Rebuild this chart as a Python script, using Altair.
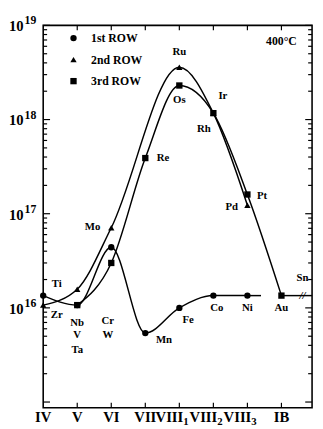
import altair as alt
import pandas as pd

# ---------------- data ----------------
row1_el = ["Ti", "V", "Cr", "Mn", "Fe", "Co", "Ni"]
row1_x = [0, 1, 2, 3, 4, 5, 6]
row1_y = [1.35e16, 1.07e16, 4.4e16, 5.4e15, 1.0e16, 1.35e16, 1.35e16]

row2_el = ["Zr", "Nb", "Mo", "Ru", "Rh", "Pd"]
row2_x = [0, 1, 2, 4, 5, 6]
row2_y = [1.07e16, 1.58e16, 7.1e16, 3.6e18, 1.17e18, 1.23e17]

row3_el = ["Ta", "W", "Re", "Os", "Ir", "Pt", "Au"]
row3_x = [1, 2, 3, 4, 5, 6, 7]
row3_y = [1.07e16, 3.0e16, 3.9e17, 2.3e18, 1.17e18, 1.6e17, 1.35e16]

# straight tails: Ni -> end of 1st row line, Au -> Sn
tail_row = ["1st ROW", "1st ROW", "3rd ROW", "3rd ROW"]
tail_x = [6, 6.4, 7, 7.9]
tail_y = [1.35e16, 1.35e16, 1.35e16, 1.35e16]

rows = ["1st ROW", "2nd ROW", "3rd ROW"]

# element labels (annotation anchors in data space)
lab_text = ["Ti", "Zr", "Nb", "V", "Ta", "Mo", "Cr", "W", "Mn", "Fe", "Co", "Ni",
            "Au", "Sn", "Pd", "Pt", "Rh", "Ir", "Os", "Ru", "Re"]
lab_x = [0.40, 0.40, 1.0, 1.0, 1.0, 1.45, 1.9, 1.9, 3.55, 4.26, 5.1, 6.0,
         7.0, 7.62, 5.54, 6.43, 4.72, 5.28, 4.0, 4.0, 3.52]
lab_y = [1.78e16, 8.3e15, 6.9e15, 5.1e15, 3.6e15, 7.2e16, 7.2e15, 5.1e15, 4.6e15,
         7.4e15, 1.0e16, 1.0e16, 1.0e16, 2.05e16, 1.17e17, 1.55e17, 7.9e17, 1.78e18,
         1.6e18, 5.2e18, 3.9e17]

temp_text = ["400°C"]
temp_x = [7.0]
temp_y = [6.8e18]

brk_text = ["//"]
brk_x = [7.62]
brk_y = [1.35e16]

# axis tick labels
x_pos = [0, 1, 2, 3, 4, 5, 6, 7]
x_main = ["IV", "V", "VI", "VII", "VIII", "VIII", "VIII", "IB"]
x_sub = ["", "", "", "", "1", "2", "3", ""]
y_exp = ["16", "17", "18", "19"]
y_dec = [1e16, 1e17, 1e18, 1e19]
y_major = [1e15, 1e16, 1e17, 1e18, 1e19]
y_minor = [m * 10.0 ** e for e in (15, 16, 17, 18) for m in (2, 3, 4, 5, 6, 7, 8, 9)]
x_ticks = [1, 2, 3, 4, 5, 6, 7]

# ---------------- chart ----------------
W, H = 275, 391
FONT = "Liberation Serif"
xs = alt.Scale(domain=[0, 7.9], nice=False, zero=False)
ys = alt.Scale(type="log", domain=[10 ** 14.94, 1e19], nice=False)

pts = pd.DataFrame({
    "row": ["1st ROW"] * len(row1_x) + ["2nd ROW"] * len(row2_x) + ["3rd ROW"] * len(row3_x),
    "el": row1_el + row2_el + row3_el,
    "x": row1_x + row2_x + row3_x,
    "y": row1_y + row2_y + row3_y,
})
tails = pd.DataFrame({"row": tail_row, "x": tail_x, "y": tail_y})
labs = pd.DataFrame({"t": lab_text, "x": lab_x, "y": lab_y})
xl = pd.DataFrame({"x": x_pos, "main": x_main, "sub": x_sub})
yl = pd.DataFrame({"v": y_dec, "e": y_exp})

X = lambda f="x": alt.X(f"{f}:Q", scale=xs, axis=None)
Y = lambda f="y": alt.Y(f"{f}:Q", scale=ys, axis=None)

curves = alt.Chart(pts).mark_line(interpolate="monotone", color="black", strokeWidth=1.5).encode(
    x=X(), y=Y(), detail="row:N", order="x:Q")
tail_lines = alt.Chart(tails).mark_line(color="black", strokeWidth=1.5).encode(
    x=X(), y=Y(), detail="row:N", order="x:Q")

points = alt.Chart(pts).mark_point(filled=True, size=42, color="black", opacity=1).encode(
    x=X(), y=Y(),
    shape=alt.Shape("row:N", scale=alt.Scale(domain=rows, range=["circle", "triangle-up", "square"]),
                    legend=alt.Legend(orient="none", legendX=25, legendY=7, title=None,
                                      labelFont=FONT, labelFontWeight="bold", labelFontSize=12,
                                      labelColor="black", symbolFillColor="black",
                                      symbolStrokeColor="black", symbolOpacity=1, symbolSize=42,
                                      rowPadding=9, labelOffset=12, padding=0)),
    order=alt.Order("row:N"))

labels = alt.Chart(labs).mark_text(font=FONT, fontWeight="bold", fontSize=11, color="black").encode(
    x=X(), y=Y(), text="t:N")
temp = alt.Chart(pd.DataFrame({"t": temp_text, "x": temp_x, "y": temp_y})).mark_text(
    font=FONT, fontWeight="bold", fontSize=12, color="black").encode(x=X(), y=Y(), text="t:N")
brk = alt.Chart(pd.DataFrame({"t": brk_text, "x": brk_x, "y": brk_y})).mark_text(
    font=FONT, fontStyle="italic", fontWeight="bold", fontSize=11, color="black").encode(
    x=X(), y=Y(), text="t:N")

# x tick labels
XB = H + 15
xmain_plain = alt.Chart(xl[xl["sub"] == ""]).mark_text(
    font=FONT, fontWeight="bold", fontSize=15, color="black", baseline="alphabetic").encode(
    x=X(), y=alt.value(XB), text="main:N")
xmain_sub = alt.Chart(xl[xl["sub"] != ""]).mark_text(
    font=FONT, fontWeight="bold", fontSize=15, color="black", baseline="alphabetic",
    align="right", dx=4).encode(x=X(), y=alt.value(XB), text="main:N")
xsub = alt.Chart(xl[xl["sub"] != ""]).mark_text(
    font=FONT, fontWeight="bold", fontSize=11, color="black", baseline="alphabetic",
    align="left", dx=4).encode(x=X(), y=alt.value(XB + 3), text="sub:N")

# y tick labels 10^n
ten = alt.Chart(yl).mark_text(font=FONT, fontWeight="bold", fontSize=15, color="black",
                              align="right", baseline="alphabetic", dy=6).encode(
    x=alt.value(-20), y=Y("v"), text=alt.value("10"))
expo = alt.Chart(yl).mark_text(font=FONT, fontWeight="bold", fontSize=12, color="black",
                               align="left", baseline="alphabetic", dy=-1).encode(
    x=alt.value(-19), y=Y("v"), text="e:N")

# inward ticks
ymaj = pd.DataFrame({"v": y_major})
ymin = pd.DataFrame({"v": y_minor})
xt = pd.DataFrame({"x": x_ticks})
tk = dict(color="black", strokeWidth=1.2)
t1 = alt.Chart(ymaj).mark_rule(**tk).encode(y=Y("v"), x=alt.value(0), x2=alt.value(7))
t2 = alt.Chart(ymaj).mark_rule(**tk).encode(y=Y("v"), x=alt.value(W), x2=alt.value(W - 7))
t3 = alt.Chart(ymin).mark_rule(**tk).encode(y=Y("v"), x=alt.value(0), x2=alt.value(4))
t4 = alt.Chart(ymin).mark_rule(**tk).encode(y=Y("v"), x=alt.value(W), x2=alt.value(W - 4))
t5 = alt.Chart(xt).mark_rule(**tk).encode(x=X(), y=alt.value(0), y2=alt.value(5))
t6 = alt.Chart(xt).mark_rule(**tk).encode(x=X(), y=alt.value(H), y2=alt.value(H - 5))

chart = alt.layer(
    t1, t2, t3, t4, t5, t6,
    curves, tail_lines, brk, points, labels, temp,
    xmain_plain, xmain_sub, xsub, ten, expo,
).properties(
    width=W, height=H,
    autosize=alt.AutoSizeParams(type="none"),
    padding={"left": 36, "top": 13, "right": 3, "bottom": 17},
    background="white",
).configure_view(stroke="black", strokeWidth=1.6)

chart.save("out.html", embed_options={"renderer": "svg", "actions": False})
